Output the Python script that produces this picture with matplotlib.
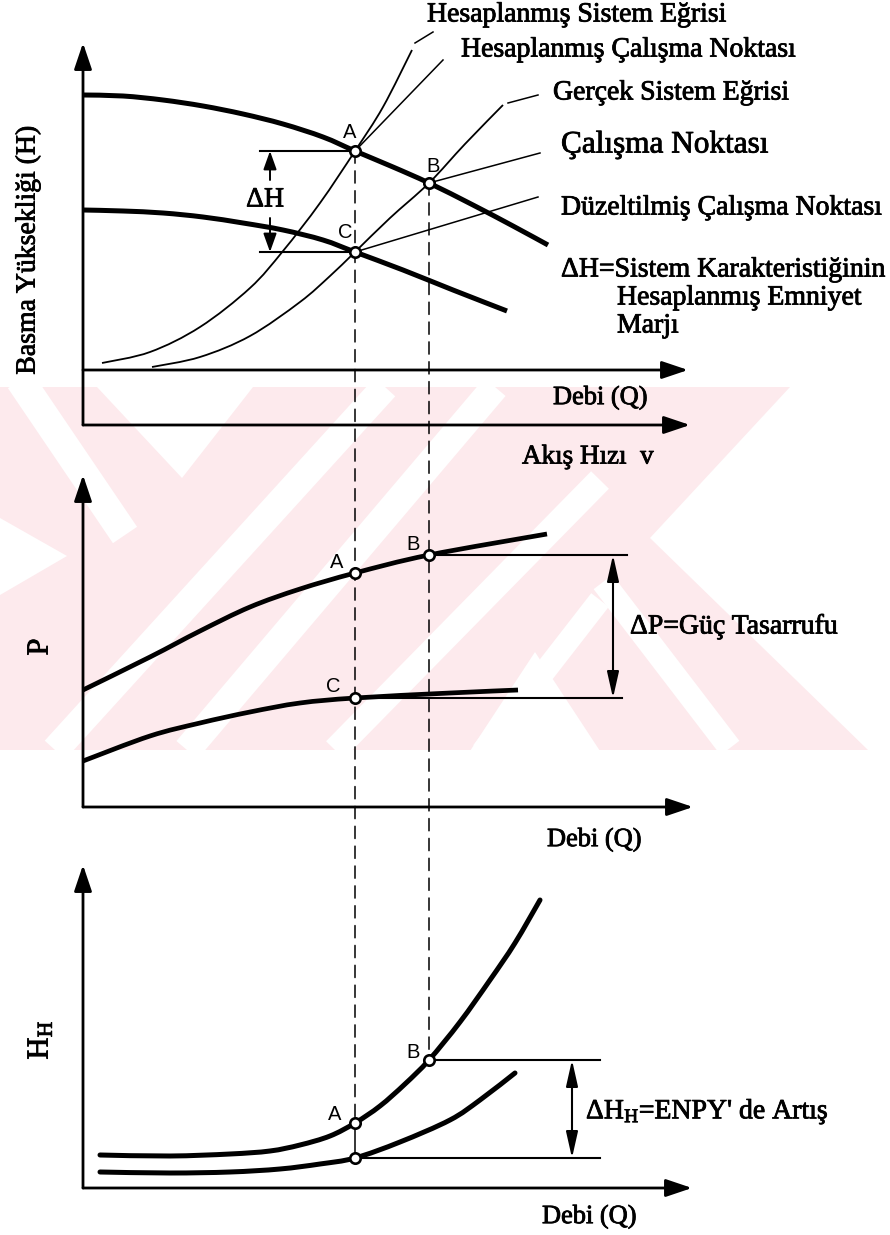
import matplotlib
matplotlib.use("Agg")
import matplotlib.pyplot as plt
import matplotlib.patheffects as pe
from matplotlib.patches import ConnectionPatch, Polygon, PathPatch
from matplotlib.path import Path

plt.rcParams["font.family"] = ["Liberation Serif", "DejaVu Serif"]
plt.rcParams["mathtext.fontset"] = "custom"
plt.rcParams["mathtext.rm"] = "Liberation Serif"
plt.rcParams["mathtext.it"] = "Liberation Serif:italic"

# ---------------- data (schematic units: Q from the vertical axis) ----------------
# Panel 1 : head H vs flow Q
q_pump_full = [0, 40, 80, 120, 160, 200, 240, 272, 310, 346, 390, 430, 465]
h_pump_full = [275, 274, 270, 264, 256, 246, 233, 219, 203, 187, 165, 144, 125]
q_pump_trim = [0, 40, 80, 120, 160, 200, 240, 272, 320, 370, 424]
h_pump_trim = [160, 159, 157, 153, 147, 140, 130, 118, 100, 80, 59]
q_sys_design = [19, 67, 117, 167, 200, 237, 272, 300, 329]
h_sys_design = [7, 18, 43, 82, 119, 167, 219, 263, 320]
q_sys_actual = [69, 117, 167, 217, 247, 272, 307, 346, 382, 420]
h_sys_actual = [3, 13, 34, 68, 94, 118, 152, 187, 226, 265]

op_names = ["A", "B", "C"]
op_q = [272, 346, 272]
op_h = [219, 187, 118]

# Panel 2 : power P vs flow Q
q_p_full = [0, 67, 117, 167, 217, 272, 346, 464]
p_full = [117, 150, 176, 200, 218, 234, 252, 273]
q_p_trim = [0, 67, 117, 167, 217, 272, 367, 435]
p_trim = [46, 71, 84, 95, 104, 109, 114, 117]
op_p = [234, 252, 109]

# Panel 3 : NPSH H_H vs flow Q
q_hh_up = [17, 87, 147, 187, 217, 247, 272, 297, 322, 346, 377, 407, 432, 457]
hh_up = [33, 32, 34, 37, 43, 52, 65, 82, 104, 128, 166, 208, 245, 288]
q_hh_low = [17, 87, 147, 197, 237, 272, 317, 367, 397, 432]
hh_low = [16, 15, 16, 19, 24, 30, 46, 68, 88, 115]
op_hh = [65, 128, 30]

# ---------------- figure ----------------
fig = plt.figure(figsize=(8.9, 12.35), dpi=100)

# faint watermark in the background
ax_bg = fig.add_axes([0, 0, 1, 1], zorder=-2)
ax_bg.set_xlim(0, 890)
ax_bg.set_ylim(1235, 0)
ax_bg.axis("off")
pink = "#fdeaed"
ax_bg.add_patch(Polygon([(0, 387), (790, 387), (650, 538), (868, 750), (0, 750)],
                        closed=True, fc=pink, ec="none"))
white_bands = [((20, 380), (125, 535), 21),
               ((385, 387), (55, 750), 20),
               ((495, 387), (187, 750), 20),
               ((600, 480), (335, 750), 18),
               ((600, 600), (482, 752), 16),
               ((603, 582), (730, 748), 17)]
for (x0, y0), (x1, y1), w in white_bands:
    ax_bg.plot([x0, x1], [y0, y1], color="white", lw=w, solid_capstyle="butt")
ax_bg.add_patch(Polygon([(97, 387), (253, 387), (182, 478)], closed=True, fc="white", ec="none"))
ax_bg.add_patch(Polygon([(535, 652), (470, 751), (600, 751)], closed=True, fc="white", ec="none"))
ax_bg.add_patch(Polygon([(0, 518), (67, 556), (0, 595)], closed=True, fc="white", ec="none"))


def make_panel(top_px, bottom_px, origin_px):
    ax = fig.add_axes([0, 1 - bottom_px / 1235, 1, (bottom_px - top_px) / 1235])
    ax.set_xlim(-83, 807)
    ax.set_ylim(origin_px - bottom_px, origin_px - top_px)
    ax.axis("off")
    ax.patch.set_alpha(0)
    return ax


ax1 = make_panel(0, 440, 370)
ax2 = make_panel(440, 840, 807)
ax3 = make_panel(840, 1235, 1188)

K = "black"
heavy = [pe.withStroke(linewidth=0.6, foreground=K)]


def smooth(ax, xs, ys, lw, cap="butt", zorder=3):
    """Draw a smooth Bezier curve through the given points."""
    pts = list(zip(xs, ys))
    verts = [pts[0]]
    codes = [Path.MOVETO]
    n = len(pts)
    for i in range(n - 1):
        p0 = pts[i - 1] if i > 0 else pts[i]
        p1, p2 = pts[i], pts[i + 1]
        p3 = pts[i + 2] if i + 2 < n else pts[i + 1]
        c1 = (p1[0] + (p2[0] - p0[0]) / 6, p1[1] + (p2[1] - p0[1]) / 6)
        c2 = (p2[0] - (p3[0] - p1[0]) / 6, p2[1] - (p3[1] - p1[1]) / 6)
        verts += [c1, c2, p2]
        codes += [Path.CURVE4] * 3
    ax.add_patch(PathPatch(Path(verts, codes), fill=False, lw=lw, ec=K,
                           capstyle=cap, joinstyle="round", zorder=zorder))


def arrow(ax, x0, y0, x1, y1, lw=2.0, style="-|>,head_length=0.8,head_width=0.27", ms=20):
    ax.annotate("", xy=(x1, y1), xytext=(x0, y0),
                arrowprops=dict(arrowstyle=style, mutation_scale=ms, lw=lw,
                                color=K, fc=K, shrinkA=0, shrinkB=0),
                annotation_clip=False)


def label(ax, x, y, s, size, **kw):
    return ax.text(x, y, s, fontsize=size, va="center", path_effects=heavy, **kw)


def points(ax, qs, vs, labels, label_xy):
    ax.plot(qs, vs, "o", ms=7.5, mfc="white", mec=K, mew=1.9, zorder=6, clip_on=False)
    for lab, (lx, ly) in zip(labels, label_xy):
        ax.text(lx, ly, lab, fontsize=14.5, family="Liberation Sans",
                ha="center", va="center", zorder=7)


serif = 20
# ---------- panel 1 ----------
arrow(ax1, 0, -55, 0, 327)
arrow(ax1, 0, 0, 605, 0)
arrow(ax1, 0, -55, 607, -55)

smooth(ax1, q_pump_full, h_pump_full, 3.6)
smooth(ax1, q_pump_trim, h_pump_trim, 3.6)
smooth(ax1, q_sys_design, h_sys_design, 1.3, zorder=2)
smooth(ax1, q_sys_actual, h_sys_actual, 1.3, zorder=2)
# operating-point leader lines
ax1.plot([op_q[0], 360], [op_h[0], 310], color=K, lw=1.1)
ax1.plot([op_q[1], 457], [op_h[1], 217], color=K, lw=1.1)
ax1.plot([op_q[2], 455], [op_h[2], 173], color=K, lw=1.1)
ax1.plot([332, 350], [327, 338], color=K, lw=1.1)
ax1.plot([425, 455], [267, 275], color=K, lw=1.1)

# delta H
ax1.plot([177, op_q[0]], [op_h[0], op_h[0]], color=K, lw=1.5)
ax1.plot([177, op_q[2]], [op_h[2], op_h[2]], color=K, lw=1.5)
arrow(ax1, 187, 190, 187, op_h[0], lw=1.4, style="-|>,head_length=0.7,head_width=0.25", ms=16)
arrow(ax1, 187, 152, 187, op_h[2], lw=1.4, style="-|>,head_length=0.7,head_width=0.25", ms=16)
label(ax1, 182, 170, "ΔH", serif, ha="center")

points(ax1, op_q, op_h, op_names, [(267, 237), (350, 203), (262, 137)])

label(ax1, 344, 355, "Hesaplanmış Sistem Eğrisi", serif)
label(ax1, 378, 320, "Hesaplanmış Çalışma Noktası", serif)
label(ax1, 470, 277, "Gerçek Sistem Eğrisi", serif)
label(ax1, 478, 225, "Çalışma Noktası", 22.5)
label(ax1, 478, 162, "Düzeltilmiş Çalışma Noktası", serif)
label(ax1, 478, 100, "ΔH=Sistem Karakteristiğinin", serif)
label(ax1, 534, 72, "Hesaplanmış Emniyet", serif)
label(ax1, 534, 44, "Marjı", serif)
label(ax1, 470, -28, "Debi (Q)", 19)
label(ax1, 439, -87, "Akış Hızı  v", 19.5)
label(ax1, -55, 120, "Basma Yüksekliği (H)", serif, rotation=90, ha="center")

# ---------- panel 2 ----------
arrow(ax2, 0, 0, 0, 332)
arrow(ax2, 0, 0, 610, 0)
smooth(ax2, q_p_full, p_full, 3.4)
smooth(ax2, q_p_trim, p_trim, 3.4)
ax2.plot([op_q[1], 544], [op_p[1], op_p[1]], color=K, lw=1.5)
ax2.plot([op_q[2], 539], [op_p[2], op_p[2]], color=K, lw=1.5)
arrow(ax2, 530, op_p[2], 530, op_p[1], lw=1.5,
      style="<|-|>,head_length=0.8,head_width=0.18", ms=20)
points(ax2, op_q, op_p, op_names, [(254, 244), (330, 262), (250, 120)])
label(ax2, 547, 180, "ΔP=Güç Tasarrufu", serif)
label(ax2, 464, -33, "Debi (Q)", 19)
label(ax2, -43, 160, "P", 22, rotation=90, ha="center")

# ---------- panel 3 ----------
arrow(ax3, 0, 0, 0, 323)
arrow(ax3, 0, 0, 609, 0)
smooth(ax3, q_hh_up, hh_up, 3.6, cap="round")
smooth(ax3, q_hh_low, hh_low, 3.6, cap="round")
ax3.plot([op_q[1], 517], [op_hh[1], op_hh[1]], color=K, lw=1.5)
ax3.plot([op_q[2], 517], [op_hh[2], op_hh[2]], color=K, lw=1.5)
ax3.plot([op_q[0], op_q[2]], [op_hh[0], op_hh[2]], color=K, lw=1.1)
arrow(ax3, 489, op_hh[2], 489, op_hh[1], lw=1.5,
      style="<|-|>,head_length=0.8,head_width=0.18", ms=20)
points(ax3, op_q, op_hh, ["A", "B", ""], [(252, 73), (330, 135), (0, 0)])
label(ax3, 503, 76, "ΔH$_\\mathrm{H}$=ENPY' de Artış", serif)
label(ax3, 459, -29, "Debi (Q)", 19)
label(ax3, -43, 148, "H$_\\mathrm{H}$", 22, rotation=90, ha="center")

# ---------- dashed projection lines between panels ----------
for i in (0, 1):
    con = ConnectionPatch(xyA=(op_q[i], op_h[i]), coordsA=ax1.transData,
                          xyB=(op_q[i], op_hh[i]), coordsB=ax3.transData,
                          color=K, lw=1.1, linestyle=(0, (8, 5)), zorder=-1)
    fig.add_artist(con)

fig.savefig("out.png", dpi=100)
